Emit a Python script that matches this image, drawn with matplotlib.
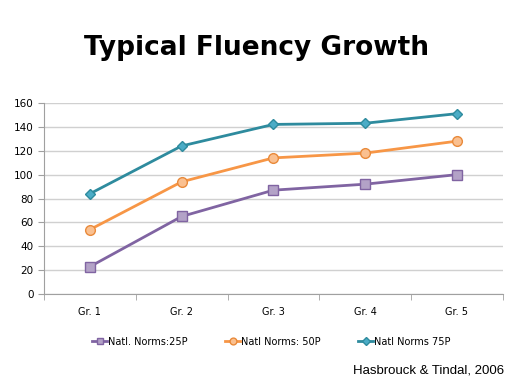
import matplotlib
matplotlib.use("Agg")
import matplotlib.pyplot as plt
import numpy as np

grades = ["Gr. 1", "Gr. 2", "Gr. 3", "Gr. 4", "Gr. 5"]
p25 = [23, 65, 87, 92, 100]
p50 = [54, 94, 114, 118, 128]
p75 = [84, 124, 142, 143, 151]

fig = plt.figure(figsize=(5.12, 3.84), dpi=100)
ax = fig.add_axes([0.086, 0.234, 0.896, 0.498])

x = np.arange(len(grades))
ax.plot(x, p25, "-s", color="#8064A2", lw=2, ms=7, mfc="#B3A2C7", mec="#8064A2", mew=1,
        label="Natl. Norms:25P")
ax.plot(x, p50, "-o", color="#F79646", lw=2, ms=7, mfc="#FAC090", mec="#E98A3A", mew=1,
        label="Natl Norms: 50P")
ax.plot(x, p75, "-D", color="#2E8B9E", lw=2, ms=5.5, mfc="#4BACC6", mec="#2E8B9E", mew=1,
        label="Natl Norms 75P")

ax.set_xlim(-0.5, 4.5)
ax.set_ylim(0, 160)
ax.set_yticks(range(0, 161, 20))
ax.set_xticks(x)
ax.set_xticklabels(grades)
ax.set_xticks(np.arange(-0.5, 4.6, 1), minor=True)
ax.tick_params(axis="x", which="major", length=0, labelsize=7, pad=9)
ax.tick_params(axis="x", which="minor", length=4, color="#A0A0A0")
ax.tick_params(axis="y", length=4, color="#A0A0A0", labelsize=7.5)
ax.yaxis.grid(True, color="#D0D0D0", lw=1)
ax.set_axisbelow(True)
for s in ["top", "right"]:
    ax.spines[s].set_visible(False)
ax.spines["left"].set_color("#A0A0A0")
ax.spines["bottom"].set_color("#A0A0A0")

fig.text(0.5, 0.875, "Typical Fluency Growth", ha="center", va="center",
         fontsize=19, fontweight="bold")
fig.legend(loc="center", bbox_to_anchor=(0.53, 0.11), ncol=3, frameon=False,
           fontsize=7, handlelength=1.6, handletextpad=0.1, columnspacing=3.8,
           markerscale=0.7)
fig.text(0.985, 0.035, "Hasbrouck & Tindal, 2006", ha="right", va="center",
         fontsize=9.5, family="Liberation Sans")

fig.savefig("out.png", dpi=100)
